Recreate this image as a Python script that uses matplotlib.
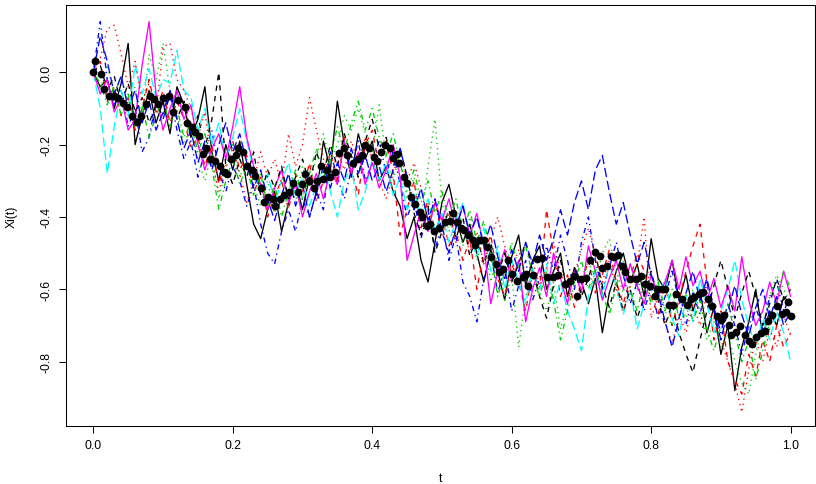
import numpy as np
import matplotlib
matplotlib.use('Agg')
import matplotlib.pyplot as plt

# time grid of the curves
t = np.linspace(0, 1, 101)

# curves Xi(t)
x1 = [0.00, -0.04, -0.02, -0.10, -0.03, 0.08, -0.20, -0.12, -0.05, -0.14,
      -0.08, -0.17, -0.04, -0.09, -0.18, -0.13, -0.04, -0.22, -0.30, -0.20,
      -0.27, -0.19, -0.31, -0.42, -0.46, -0.38, -0.33, -0.44, -0.36, -0.30,
      -0.38, -0.29, -0.34, -0.19, -0.27, -0.08, -0.20, -0.29, -0.17, -0.24,
      -0.19, -0.30, -0.26, -0.33, -0.37, -0.46, -0.40, -0.52, -0.58, -0.47,
      -0.36, -0.31, -0.40, -0.47, -0.42, -0.50, -0.58, -0.49, -0.55, -0.63,
      -0.51, -0.45, -0.59, -0.52, -0.48, -0.60, -0.55, -0.50, -0.62, -0.54,
      -0.58, -0.64, -0.57, -0.72, -0.61, -0.55, -0.50, -0.58, -0.53, -0.62,
      -0.46, -0.57, -0.60, -0.52, -0.63, -0.56, -0.66, -0.60, -0.72, -0.65,
      -0.78, -0.70, -0.88, -0.76, -0.69, -0.60, -0.73, -0.66, -0.70, -0.62, -0.64]
x2 = [0.00, 0.03, -0.08, -0.04, -0.12, -0.07, -0.16, -0.10, -0.02, -0.11,
      -0.05, -0.14, -0.08, -0.13, -0.21, -0.18, -0.26, -0.20, -0.31, -0.24,
      -0.19, -0.27, -0.23, -0.33, -0.29, -0.40, -0.34, -0.30, -0.38, -0.28,
      -0.33, -0.25, -0.36, -0.30, -0.22, -0.31, -0.18, -0.27, -0.34, -0.20,
      -0.16, -0.26, -0.19, -0.28, -0.45, -0.38, -0.30, -0.43, -0.35, -0.44,
      -0.39, -0.48, -0.44, -0.52, -0.46, -0.60, -0.50, -0.45, -0.57, -0.62,
      -0.53, -0.58, -0.66, -0.55, -0.60, -0.38, -0.50, -0.62, -0.56, -0.65,
      -0.58, -0.52, -0.61, -0.56, -0.49, -0.58, -0.64, -0.57, -0.50, -0.55,
      -0.62, -0.67, -0.58, -0.70, -0.63, -0.55, -0.48, -0.42, -0.58, -0.74,
      -0.66, -0.80, -0.85, -0.89, -0.78, -0.84, -0.74, -0.80, -0.70, -0.76, -0.72]
x3 = [0.00, -0.05, 0.02, -0.06, -0.01, -0.09, -0.04, -0.13, 0.05, -0.02,
      0.08, -0.05, -0.12, -0.20, -0.15, -0.24, -0.30, -0.22, -0.35, -0.27,
      -0.20, -0.29, -0.24, -0.31, -0.37, -0.30, -0.39, -0.34, -0.28, -0.36,
      -0.26, -0.32, -0.23, -0.17, -0.25, -0.20, -0.12, -0.16, -0.10, -0.17,
      -0.22, -0.09, -0.24, -0.30, -0.22, -0.35, -0.29, -0.41, -0.26, -0.13,
      -0.36, -0.44, -0.39, -0.48, -0.40, -0.52, -0.46, -0.58, -0.50, -0.63,
      -0.56, -0.76, -0.62, -0.55, -0.61, -0.66, -0.58, -0.71, -0.64, -0.55,
      -0.60, -0.52, -0.58, -0.50, -0.46, -0.55, -0.61, -0.53, -0.60, -0.56,
      -0.63, -0.57, -0.66, -0.70, -0.62, -0.68, -0.60, -0.66, -0.74, -0.69,
      -0.76, -0.72, -0.80, -0.86, -0.89, -0.78, -0.70, -0.62, -0.56, -0.60, -0.64]
x4 = [0.00, 0.14, -0.02, -0.09, -0.05, -0.15, -0.10, -0.22, -0.18, -0.08,
      -0.13, -0.06, -0.16, -0.24, -0.19, -0.29, -0.22, -0.16, -0.27, -0.33,
      -0.26, -0.30, -0.37, -0.31, -0.42, -0.50, -0.53, -0.44, -0.38, -0.44,
      -0.35, -0.40, -0.33, -0.38, -0.22, -0.29, -0.35, -0.27, -0.19, -0.30,
      -0.25, -0.19, -0.28, -0.22, -0.31, -0.40, -0.35, -0.46, -0.38, -0.49,
      -0.42, -0.52, -0.45, -0.58, -0.62, -0.69, -0.57, -0.50, -0.61, -0.54,
      -0.66, -0.59, -0.52, -0.63, -0.57, -0.48, -0.55, -0.45, -0.52, -0.60,
      -0.47, -0.40, -0.52, -0.60, -0.54, -0.47, -0.56, -0.64, -0.58, -0.66,
      -0.59, -0.68, -0.62, -0.55, -0.63, -0.70, -0.61, -0.67, -0.58, -0.65,
      -0.72, -0.64, -0.70, -0.78, -0.70, -0.65, -0.71, -0.62, -0.58, -0.66, -0.62]
x5 = [0.00, -0.10, -0.28, -0.15, -0.05, -0.12, 0.02, -0.06, 0.01, -0.07,
      -0.02, -0.03, 0.06, -0.05, -0.07, -0.16, -0.10, -0.20, -0.14, -0.24,
      -0.18, -0.10, -0.19, -0.27, -0.33, -0.28, -0.36, -0.30, -0.25, -0.34,
      -0.29, -0.37, -0.31, -0.26, -0.33, -0.40, -0.30, -0.26, -0.38, -0.33,
      -0.24, -0.30, -0.25, -0.34, -0.29, -0.38, -0.33, -0.40, -0.35, -0.44,
      -0.39, -0.47, -0.41, -0.36, -0.45, -0.51, -0.43, -0.55, -0.48, -0.60,
      -0.52, -0.58, -0.64, -0.54, -0.60, -0.53, -0.64, -0.58, -0.66, -0.71,
      -0.77, -0.62, -0.55, -0.62, -0.53, -0.59, -0.67, -0.60, -0.71, -0.64,
      -0.56, -0.63, -0.57, -0.68, -0.73, -0.62, -0.69, -0.57, -0.64, -0.72,
      -0.66, -0.60, -0.52, -0.63, -0.70, -0.76, -0.68, -0.74, -0.66, -0.72, -0.80]
x6 = [0.00, -0.06, -0.02, -0.11, -0.07, -0.16, -0.13, 0.02, 0.14, -0.06,
      -0.16, -0.10, -0.05, -0.13, -0.09, -0.20, -0.27, -0.21, -0.17, -0.24,
      -0.15, -0.04, -0.18, -0.26, -0.31, -0.38, -0.32, -0.27, -0.36, -0.31,
      -0.40, -0.33, -0.28, -0.35, -0.27, -0.31, -0.19, -0.28, -0.22, -0.31,
      -0.25, -0.32, -0.27, -0.20, -0.29, -0.52, -0.45, -0.38, -0.44, -0.36,
      -0.41, -0.35, -0.43, -0.37, -0.45, -0.39, -0.48, -0.64, -0.55, -0.49,
      -0.58, -0.52, -0.69, -0.60, -0.54, -0.62, -0.50, -0.57, -0.64, -0.55,
      -0.61, -0.48, -0.55, -0.63, -0.57, -0.52, -0.60, -0.53, -0.59, -0.64,
      -0.56, -0.62, -0.58, -0.52, -0.60, -0.51, -0.59, -0.55, -0.63, -0.57,
      -0.65, -0.59, -0.66, -0.51, -0.63, -0.70, -0.66, -0.58, -0.64, -0.55, -0.62]
x7 = [0.00, 0.02, -0.05, -0.01, -0.09, -0.03, -0.11, -0.07, -0.14, -0.09,
      -0.12, -0.06, -0.13, -0.08, -0.17, -0.12, -0.21, -0.13, 0.00, -0.26,
      -0.31, -0.24, -0.29, -0.22, -0.34, -0.27, -0.32, -0.26, -0.35, -0.29,
      -0.24, -0.31, -0.22, -0.28, -0.20, -0.26, -0.17, -0.23, -0.29, -0.19,
      -0.13, -0.21, -0.18, -0.26, -0.21, -0.29, -0.39, -0.45, -0.37, -0.50,
      -0.44, -0.38, -0.46, -0.40, -0.51, -0.45, -0.53, -0.47, -0.56, -0.50,
      -0.58, -0.53, -0.47, -0.55, -0.62, -0.68, -0.59, -0.52, -0.60, -0.54,
      -0.62, -0.57, -0.50, -0.59, -0.65, -0.58, -0.66, -0.60, -0.68, -0.62,
      -0.55, -0.63, -0.70, -0.64, -0.72, -0.78, -0.83, -0.74, -0.66, -0.59,
      -0.52, -0.60, -0.68, -0.61, -0.55, -0.62, -0.70, -0.64, -0.57, -0.63, -0.60]
x8 = [0.00, 0.04, 0.12, 0.13, 0.05, -0.04, 0.03, -0.08, -0.03, -0.11,
      0.07, 0.08, -0.02, -0.05, -0.10, -0.18, -0.11, -0.25, -0.33, -0.26,
      -0.21, -0.28, -0.36, -0.30, -0.22, -0.29, -0.24, -0.31, -0.17, -0.26,
      -0.20, -0.07, -0.16, -0.24, -0.30, -0.22, -0.27, -0.19, -0.25, -0.18,
      -0.24, -0.30, -0.35, -0.28, -0.22, -0.30, -0.25, -0.32, -0.42, -0.36,
      -0.45, -0.39, -0.47, -0.42, -0.50, -0.44, -0.53, -0.46, -0.40, -0.48,
      -0.55, -0.49, -0.57, -0.52, -0.59, -0.54, -0.47, -0.55, -0.62, -0.56,
      -0.49, -0.43, -0.51, -0.58, -0.52, -0.60, -0.66, -0.59, -0.53, -0.40,
      -0.68, -0.62, -0.69, -0.75, -0.67, -0.72, -0.64, -0.70, -0.61, -0.68,
      -0.74, -0.80, -0.86, -0.94, -0.82, -0.74, -0.80, -0.71, -0.76, -0.67, -0.73]
x9 = [0.00, -0.03, -0.09, -0.04, -0.12, -0.06, -0.15, -0.09, -0.18, -0.12,
      -0.07, -0.15, -0.10, -0.18, -0.14, -0.22, -0.17, -0.26, -0.38, -0.30,
      -0.24, -0.31, -0.26, -0.34, -0.28, -0.37, -0.31, -0.40, -0.33, -0.27,
      -0.35, -0.28, -0.21, -0.29, -0.24, -0.15, -0.22, -0.14, -0.08, -0.16,
      -0.10, -0.18, -0.23, -0.17, -0.25, -0.33, -0.27, -0.36, -0.30, -0.39,
      -0.33, -0.41, -0.35, -0.44, -0.38, -0.47, -0.41, -0.50, -0.62, -0.55,
      -0.47, -0.54, -0.48, -0.56, -0.62, -0.55, -0.63, -0.74, -0.66, -0.58,
      -0.52, -0.60, -0.54, -0.61, -0.67, -0.59, -0.52, -0.60, -0.66, -0.57,
      -0.64, -0.58, -0.66, -0.60, -0.68, -0.61, -0.69, -0.63, -0.71, -0.77,
      -0.70, -0.64, -0.72, -0.80, -0.74, -0.85, -0.77, -0.69, -0.62, -0.55, -0.60]
x10 = [0.00, 0.10, 0.03, -0.06, -0.01, -0.10, -0.05, -0.14, -0.08, -0.16,
       -0.11, -0.05, -0.13, -0.21, -0.16, -0.25, -0.19, -0.27, -0.20, -0.14,
       -0.22, -0.17, -0.25, -0.32, -0.27, -0.35, -0.41, -0.34, -0.28, -0.37,
       -0.31, -0.40, -0.33, -0.26, -0.32, -0.25, -0.30, -0.21, -0.28, -0.23,
       -0.30, -0.26, -0.33, -0.27, -0.21, -0.29, -0.38, -0.32, -0.41, -0.35,
       -0.44, -0.50, -0.43, -0.37, -0.45, -0.40, -0.48, -0.42, -0.51, -0.57,
       -0.49, -0.55, -0.47, -0.53, -0.45, -0.52, -0.46, -0.38, -0.45, -0.36,
       -0.30, -0.38, -0.27, -0.23, -0.33, -0.42, -0.36, -0.45, -0.53, -0.47,
       -0.56, -0.61, -0.69, -0.76, -0.68, -0.61, -0.55, -0.63, -0.57, -0.66,
       -0.74, -0.66, -0.59, -0.67, -0.73, -0.65, -0.60, -0.68, -0.62, -0.70, -0.66]
curves = [x1, x2, x3, x4, x5, x6, x7, x8, x9, x10]

# mean curve (black dots)
t_mean = [0.000, 0.003, 0.011, 0.016, 0.022, 0.029, 0.036, 0.042, 0.049, 0.056,
          0.062, 0.069, 0.075, 0.082, 0.087, 0.093, 0.100, 0.108, 0.115, 0.122,
          0.131, 0.135, 0.141, 0.146, 0.151, 0.158, 0.162, 0.168, 0.175, 0.181,
          0.187, 0.192, 0.197, 0.204, 0.208, 0.214, 0.221, 0.227, 0.232, 0.240,
          0.245, 0.251, 0.257, 0.261, 0.268, 0.274, 0.281, 0.287, 0.294, 0.300,
          0.304, 0.310, 0.316, 0.321, 0.326, 0.330, 0.335, 0.339, 0.346, 0.353,
          0.359, 0.364, 0.372, 0.379, 0.385, 0.389, 0.396, 0.402, 0.407, 0.413,
          0.419, 0.426, 0.430, 0.435, 0.439, 0.446, 0.450, 0.455, 0.462, 0.468,
          0.472, 0.478, 0.483, 0.489, 0.496, 0.505, 0.511, 0.516, 0.522, 0.528,
          0.532, 0.538, 0.545, 0.548, 0.554, 0.560, 0.565, 0.571, 0.577, 0.582,
          0.588, 0.595, 0.601, 0.608, 0.616, 0.621, 0.624, 0.630, 0.637, 0.644,
          0.651, 0.659, 0.666, 0.676, 0.683, 0.690, 0.694, 0.700, 0.706, 0.713,
          0.719, 0.726, 0.730, 0.737, 0.742, 0.747, 0.752, 0.758, 0.763, 0.770,
          0.778, 0.785, 0.791, 0.798, 0.805, 0.809, 0.815, 0.820, 0.826, 0.832,
          0.835, 0.844, 0.851, 0.857, 0.862, 0.868, 0.875, 0.881, 0.887, 0.894,
          0.900, 0.905, 0.911, 0.915, 0.922, 0.928, 0.934, 0.940, 0.944, 0.951,
          0.957, 0.963, 0.968, 0.974, 0.981, 0.987, 0.994, 0.996, 1.000]
x_mean = [0.000, 0.030, -0.005, -0.046, -0.066, -0.066, -0.070, -0.085, -0.097, -0.120,
          -0.138, -0.120, -0.088, -0.066, -0.075, -0.088, -0.071, -0.066, -0.110, -0.077,
          -0.097, -0.140, -0.150, -0.165, -0.175, -0.225, -0.210, -0.240, -0.245, -0.260,
          -0.276, -0.280, -0.240, -0.230, -0.210, -0.220, -0.260, -0.270, -0.287, -0.320,
          -0.360, -0.345, -0.350, -0.370, -0.350, -0.340, -0.330, -0.305, -0.330, -0.310,
          -0.280, -0.300, -0.320, -0.300, -0.260, -0.295, -0.270, -0.290, -0.275, -0.223,
          -0.210, -0.230, -0.250, -0.240, -0.230, -0.200, -0.210, -0.235, -0.245, -0.220,
          -0.200, -0.210, -0.237, -0.226, -0.250, -0.290, -0.306, -0.345, -0.365, -0.386,
          -0.400, -0.425, -0.420, -0.440, -0.430, -0.415, -0.410, -0.390, -0.415, -0.430,
          -0.435, -0.450, -0.465, -0.477, -0.465, -0.465, -0.483, -0.510, -0.530, -0.553,
          -0.545, -0.520, -0.557, -0.576, -0.566, -0.557, -0.590, -0.560, -0.516, -0.514,
          -0.566, -0.566, -0.560, -0.585, -0.576, -0.563, -0.618, -0.571, -0.570, -0.520,
          -0.497, -0.508, -0.540, -0.535, -0.508, -0.510, -0.505, -0.535, -0.553, -0.571,
          -0.571, -0.563, -0.585, -0.590, -0.618, -0.600, -0.600, -0.600, -0.644, -0.644,
          -0.613, -0.627, -0.644, -0.627, -0.622, -0.613, -0.608, -0.627, -0.647, -0.674,
          -0.685, -0.672, -0.700, -0.726, -0.718, -0.702, -0.726, -0.743, -0.752, -0.733,
          -0.720, -0.715, -0.688, -0.672, -0.647, -0.669, -0.663, -0.636, -0.674]

# R palette and lty cycle (matplot)
colors = ['black', '#FF0000', '#00CD00', '#0000FF', '#00FFFF', '#FF00FF']
ltys = ['-', (0, (4, 4)), (0, (1, 3)), (0, (1, 3, 4, 3)), (0, (7, 3))]

plt.rcParams['font.family'] = ['Liberation Sans', 'DejaVu Sans']
fig = plt.figure(figsize=(8.16, 4.85), dpi=100)
ax = fig.add_axes([0.0805, 0.1196, 0.9183, 0.868])

# curves
for i, xi in enumerate(curves):
    ax.plot(t, xi, color=colors[i % 6], linestyle=ltys[i % 5], lw=0.95, zorder=2)
# mean
ax.plot(t_mean, x_mean, 'o', color='black', ms=5.6, mew=0, zorder=3)

ax.set_xlim(-0.0396, 1.035)
ax.set_ylim(-0.978, 0.186)
ax.set_xticks([0.0, 0.2, 0.4, 0.6, 0.8, 1.0])
ax.set_yticks([0.0, -0.2, -0.4, -0.6, -0.8])
ax.set_xticklabels(['0.0', '0.2', '0.4', '0.6', '0.8', '1.0'])
ax.set_yticklabels(['0.0', '-0.2', '-0.4', '-0.6', '-0.8'], rotation=90, va='center')
ax.tick_params(direction='out', length=5.2, width=0.75, labelsize=8.7, pad=4)
for s in ax.spines.values():
    s.set_linewidth(0.75)

ax.set_xlabel('t', fontsize=8.7)
ax.set_ylabel('Xi(t)', fontsize=8.7)
ax.xaxis.set_label_coords(0.5, -0.124)
ax.xaxis.label.set_va('center')
ax.yaxis.set_label_coords(-0.0717, 0.5)
ax.yaxis.label.set_va('center')

fig.savefig('out.png', dpi=100)
